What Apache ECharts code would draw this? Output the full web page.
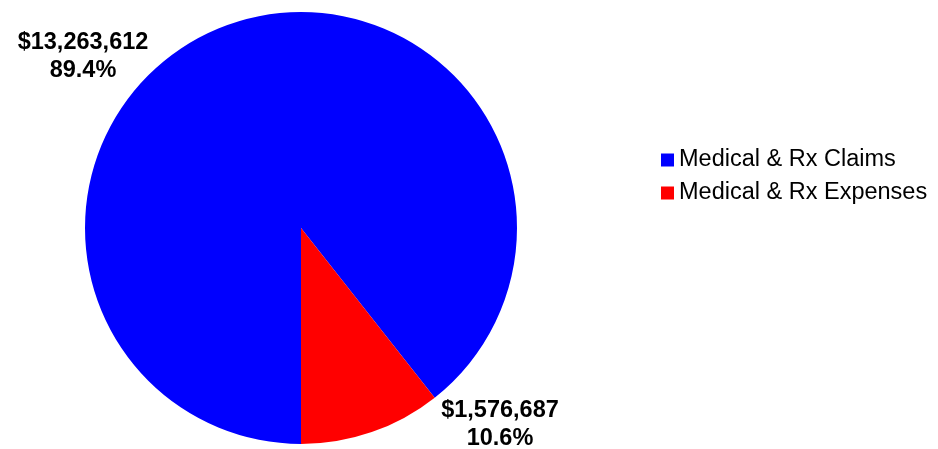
<!DOCTYPE html>
<html><head><meta charset="utf-8">
<script src="https://cdn.jsdelivr.net/npm/echarts@6/dist/echarts.min.js"></script>
<style>html,body{margin:0;padding:0;background:#fff}#c{width:938px;height:449px}</style>
</head><body><div id="c"></div>
<script>
const categories = ['Medical & Rx Claims', 'Medical & Rx Expenses'];
const values = [13263612, 1576687];
const percents = ['89.4%', '10.6%'];
const colors = ['#0000FF', '#FF0000'];

const labelPos = [[83, 57], [500, 425]];

const chart = echarts.init(document.getElementById('c'), null, {renderer: 'canvas'});
chart.setOption({
  animation: false,
  legend: {
    orient: 'vertical',
    left: 656,
    top: 143,
    itemWidth: 13,
    itemHeight: 13,
    itemGap: 9,
    icon: 'rect',
    textStyle: {fontFamily: 'Liberation Sans, Arial', fontSize: 23.5, color: '#000', lineHeight: 24},
    data: categories
  },
  series: [{
    type: 'pie',
    center: [301, 228],
    radius: 216,
    startAngle: 270,
    clockwise: true,
    data: categories.map((n, i) => ({name: n, value: values[i], itemStyle: {color: colors[i]}})),
    label: {
      show: true,
      formatter: p => '$' + p.value.toLocaleString('en-US') + '\n' + percents[p.dataIndex],
      fontFamily: 'Liberation Sans, Arial',
      fontWeight: 'bold',
      fontSize: 23.5,
      lineHeight: 28,
      color: '#000',
      align: 'center'
    },
    labelLine: {show: false},
    labelLayout: p => ({x: labelPos[p.dataIndex][0], y: labelPos[p.dataIndex][1], align: 'center', verticalAlign: 'middle'}),
    emphasis: {disabled: true}
  }]
});
</script></body></html>
